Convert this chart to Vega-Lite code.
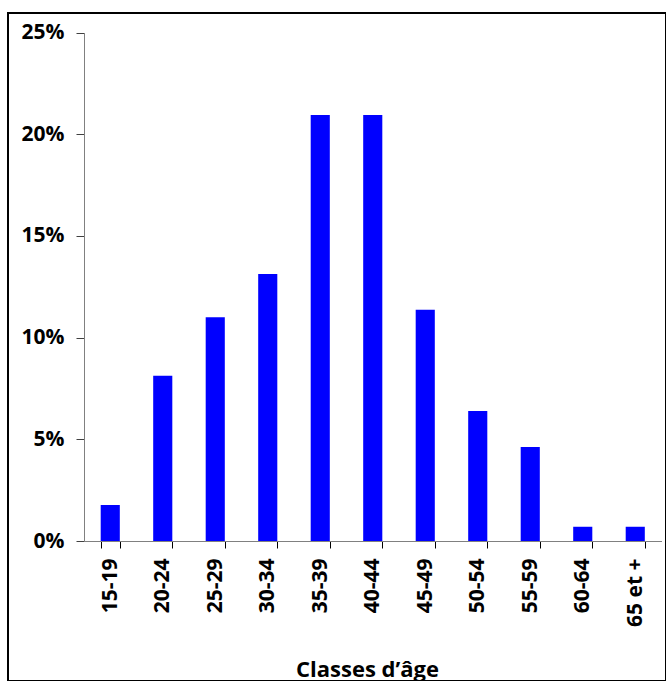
{
  "$schema": "https://vega.github.io/schema/vega-lite/v6.json",
  "autosize": "none",
  "padding": {"left": 8, "top": 13, "right": 0, "bottom": 0},
  "width": 658,
  "height": 668,
  "background": "#ffffff",
  "config": {
    "view": {"stroke": "#000000", "strokeWidth": 2},
    "font": "Open Sans"
  },
  "data": {
    "values": [
      {"classe": "15-19", "part": 0.0177},
      {"classe": "20-24", "part": 0.0813},
      {"classe": "25-29", "part": 0.110},
      {"classe": "30-34", "part": 0.1313},
      {"classe": "35-39", "part": 0.2094},
      {"classe": "40-44", "part": 0.2094},
      {"classe": "45-49", "part": 0.1137},
      {"classe": "50-54", "part": 0.0639},
      {"classe": "55-59", "part": 0.0462},
      {"classe": "60-64", "part": 0.0070},
      {"classe": "65 et +", "part": 0.0070}
    ]
  },
  "mark": {"type": "bar", "color": "#0000FF"},
  "encoding": {
    "x": {
      "field": "classe",
      "type": "nominal",
      "sort": null,
      "scale": {"range": [76, 653.5], "paddingInner": 0.636, "paddingOuter": 0.318},
      "axis": {
        "title": "Classes d’âge",
        "labelAngle": -90,
        "labelAlign": "right",
        "labelBaseline": "middle",
        "labelFontSize": 21,
        "labelFontWeight": "bold",
        "labelColor": "#000000",
        "labelPadding": 10,
        "tickBand": "extent",
        "tickSize": 7,
        "tickColor": "#000000",
        "domainColor": "#808080",
        "offset": -140,
        "titleFontSize": 22,
        "titleFontWeight": "bold",
        "titleColor": "#000000",
        "titleBaseline": "alphabetic",
        "titleY": 135,
        "titleX": 359,
        "grid": false
      }
    },
    "y": {
      "field": "part",
      "type": "quantitative",
      "scale": {"domain": [0, 0.25], "range": [528, 19.5]},
      "axis": {
        "title": null,
        "values": [0, 0.05, 0.1, 0.15, 0.2, 0.25],
        "format": ".0%",
        "labelFontSize": 21,
        "labelFontWeight": "bold",
        "labelColor": "#000000",
        "labelPadding": 12,
        "tickSize": 8,
        "tickColor": "#404040",
        "domainColor": "#808080",
        "offset": -76,
        "grid": false
      }
    }
  }
}
